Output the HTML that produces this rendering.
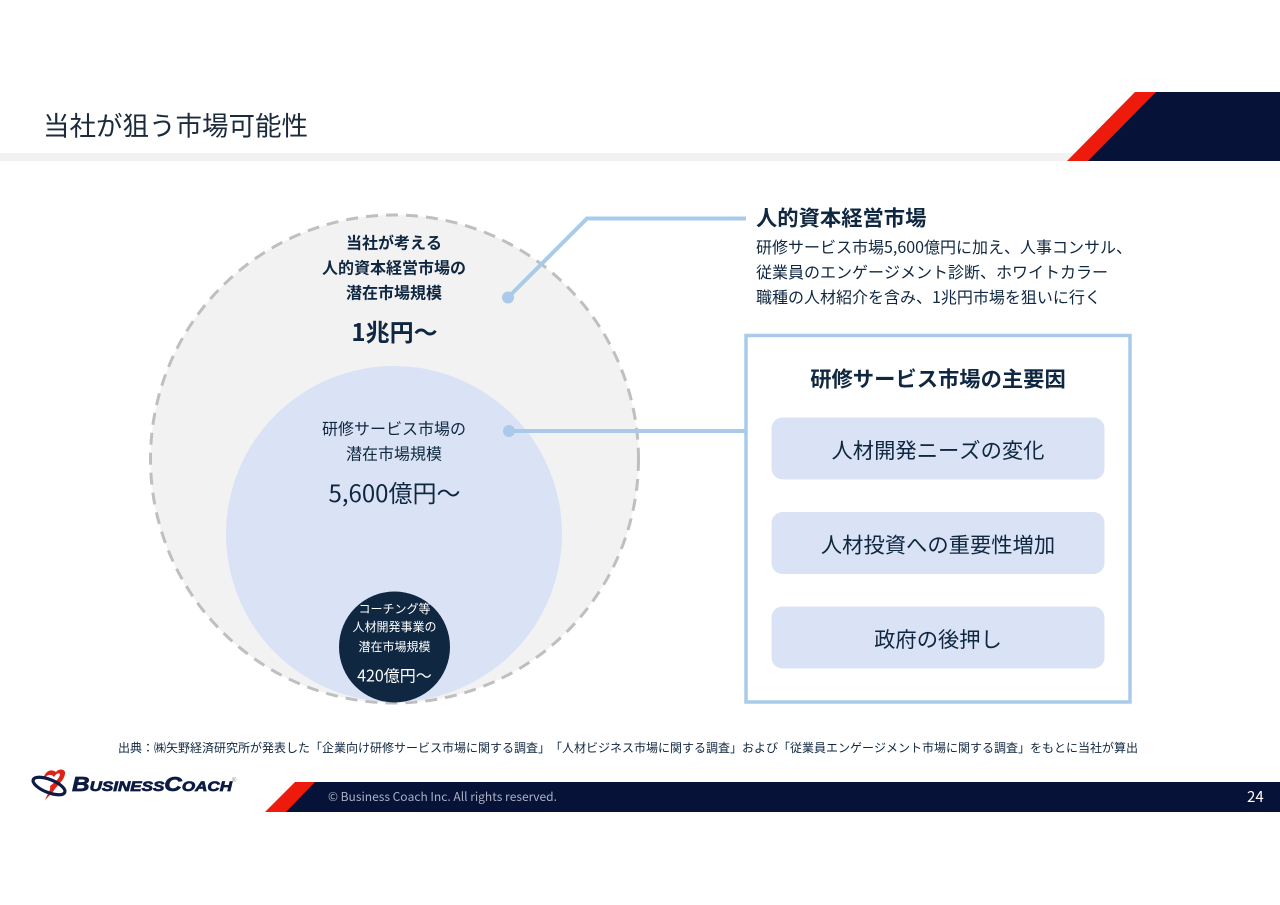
<!DOCTYPE html>
<html lang="ja"><head><meta charset="utf-8"><style>
html,body{margin:0;padding:0;background:#fff}
svg{display:block}
text{font-family:"Noto Sans CJK JP","Liberation Sans",sans-serif;fill:#0f2740;text-spacing-trim:space-all;font-kerning:none}
.m{text-anchor:middle}
.b{font-weight:700}
</style></head><body>
<svg width="1280" height="905" viewBox="0 0 1280 905" xmlns="http://www.w3.org/2000/svg">
<rect width="1280" height="905" fill="#fff"/>
<text x="43" y="135.500" font-size="26.500" style="fill:#1c2b3c">当社が狙う市場可能性</text>
<rect x="0" y="153" width="1075" height="8" fill="#f2f2f2"/>
<polygon points="1080,161 1149,92 1280,92 1280,161" fill="#061238"/>
<polygon points="1067,161 1135,92 1156,92 1088,161" fill="#ee1a0c"/>

<circle cx="394.500" cy="459" r="244" fill="#f2f2f2" stroke="#bfbfbf" stroke-width="3" stroke-dasharray="12 8.020"/>
<circle cx="394" cy="534" r="168" fill="#dae3f5"/>
<circle cx="394.500" cy="647" r="55.500" fill="#0f2740"/>

<polyline points="508,297.500 587,218.500 746,218.500" fill="none" stroke="#a9cbe9" stroke-width="4"/>
<circle cx="508" cy="297.500" r="6" fill="#a9cbe9"/>
<polyline points="509,431 746,431" fill="none" stroke="#a9cbe9" stroke-width="4"/>
<circle cx="509" cy="431" r="6" fill="#a9cbe9"/>

<text class="m b" x="394" y="248.500" font-size="16">当社が考える</text>
<text class="m b" x="394" y="273.500" font-size="16">人的資本経営市場の</text>
<text class="m b" x="394" y="298.500" font-size="16">潜在市場規模</text>
<text class="m b" x="394.500" y="341" font-size="24">1兆円～</text>
<text class="m" x="394" y="434.500" font-size="16">研修サービス市場の</text>
<text class="m" x="394" y="459.500" font-size="16">潜在市場規模</text>
<text class="m" x="394.500" y="502" font-size="24">5,600億円～</text>
<text class="m" x="394.500" y="613" font-size="12" style="fill:#fff">コーチング等</text>
<text class="m" x="394.500" y="631" font-size="12" style="fill:#fff">人材開発事業の</text>
<text class="m" x="394.500" y="651" font-size="12" style="fill:#fff">潜在市場規模</text>
<text class="m" x="394.500" y="681.500" font-size="16" style="fill:#fff">420億円～</text>

<text class="b" x="756" y="225.500" font-size="21.300">人的資本経営市場</text>
<text x="756" y="253" font-size="16">研修サービス市場5,600億円に加え、人事コンサル、</text>
<text x="756" y="278" font-size="16">従業員のエンゲージメント診断、ホワイトカラー</text>
<text x="756" y="303" font-size="16">職種の人材紹介を含み、1兆円市場を狙いに行く</text>

<rect x="746" y="335.500" width="384" height="366.500" fill="#fff" stroke="#a9cbe9" stroke-width="3.500"/>
<text class="m b" x="938" y="386.500" font-size="21.300">研修サービス市場の主要因</text>
<rect x="771.500" y="417.500" width="333" height="62" rx="11" fill="#dae3f5"/>
<rect x="771.500" y="512" width="333" height="62" rx="11" fill="#dae3f5"/>
<rect x="771.500" y="606.500" width="333" height="62" rx="11" fill="#dae3f5"/>
<text class="m" x="938" y="458" font-size="21.300">人材開発ニーズの変化</text>
<text class="m" x="938" y="552.500" font-size="21.300">人材投資への重要性増加</text>
<text class="m" x="938" y="647" font-size="21.300">政府の後押し</text>

<text x="118" y="752" font-size="12" textLength="1020" lengthAdjust="spacing">出典：㈱矢野経済研究所が発表した「企業向け研修サービス市場に関する調査」「人材ビジネス市場に関する調査」および「従業員エンゲージメント市場に関する調査」をもとに当社が算出</text>

<polygon points="280,812 308,782 1280,782 1280,812" fill="#061238"/>
<polygon points="265,812 295,782 315,782 286,812" fill="#ee1a0c"/>
<text x="328" y="801" font-size="12" style="fill:#a9b0c0">© Business Coach Inc. All rights reserved.</text>
<text x="1247" y="802" font-size="15" style="fill:#fff">24</text>

<path d="M43 779 C45 772 50 768 56 772 C59 768 66 769 65 774 C64 781 56 786 53 792 L45 800 C48 793 51 790 50 786 C55 782 60 778 60 774 C58 772 55 775 54 777 C51 773 47 775 43 779Z" fill="#df2118"/>
<ellipse cx="49" cy="786" rx="17" ry="6.500" transform="rotate(22 49 786)" fill="none" stroke="#0c1a44" stroke-width="3.200"/>
<text x="72" y="791" font-size="20" font-style="italic" textLength="160" lengthAdjust="spacingAndGlyphs" stroke="#0c1a44" stroke-width="0.700" style="font-family:'Liberation Sans',sans-serif;font-weight:700;fill:#0c1a44;font-variant:small-caps">BusinessCoach</text>
<text x="232" y="782" font-size="6" style="font-family:'Liberation Sans',sans-serif;fill:#888">®</text>
</svg>
</body></html>
